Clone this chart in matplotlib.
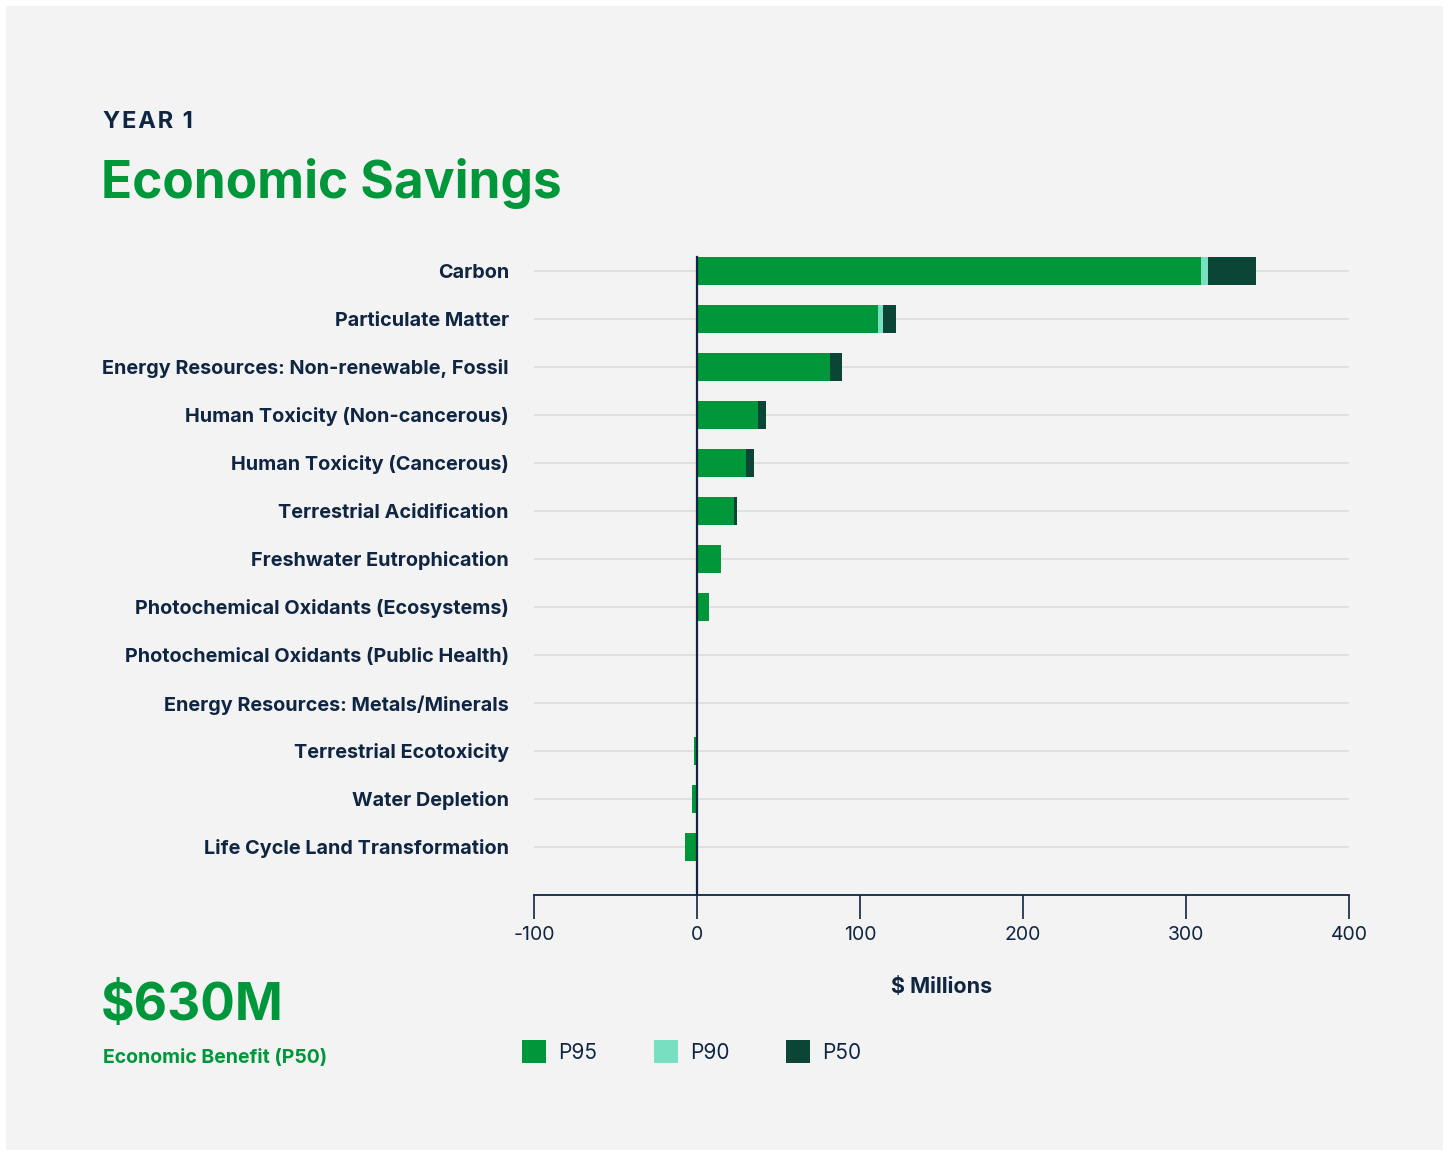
import matplotlib.pyplot as plt
from matplotlib.patches import Rectangle

# data ($ millions)
categories = ["Carbon", "Particulate Matter", "Energy Resources: Non-renewable, Fossil",
              "Human Toxicity (Non-cancerous)", "Human Toxicity (Cancerous)",
              "Terrestrial Acidification", "Freshwater Eutrophication",
              "Photochemical Oxidants (Ecosystems)", "Photochemical Oxidants (Public Health)",
              "Energy Resources: Metals/Minerals", "Terrestrial Ecotoxicity",
              "Water Depletion", "Life Cycle Land Transformation"]
p95 = [309, 111, 81.5, 37.5, 30, 22.7, 14.7, 7.3, 0.2, 0.1, -1.8, -3.2, -7.6]
p90 = [313.5, 114, 81.5, 37.5, 30, 22.7, 14.7, 7.3, 0.2, 0.1, -1.8, -3.2, -7.6]
p50 = [343, 122, 89, 42.3, 35, 24.5, 14.7, 7.3, 0.2, 0.1, -1.8, -3.2, -7.6]
xticks = [-100, 0, 100, 200, 300, 400]

GREEN = "#00963a"
MINT = "#78e0c0"
DARK = "#0b4535"
NAVY = "#0f2542"
BG = "#f3f3f3"

plt.rcParams['font.family'] = ['Inter', 'DejaVu Sans']

fig = plt.figure(figsize=(14.49, 11.52), dpi=100)
fig.patch.set_facecolor("white")
fig.patches.append(Rectangle((6 / 1449, 2 / 1152), 1437 / 1449, 1144 / 1152,
                             transform=fig.transFigure, facecolor=BG,
                             edgecolor="none", zorder=-10))

ax = fig.add_axes([534 / 1449, 257 / 1152, 815 / 1449, 672 / 1152])
ax.set_facecolor("none")

ypos = list(range(len(categories)))
h = 0.58
ax.barh(ypos, p50, height=h, color=DARK, zorder=3)
ax.barh(ypos, p90, height=h, color=MINT, zorder=4)
ax.barh(ypos, p95, height=h, color=GREEN, zorder=5)

for y in ypos:
    ax.axhline(y, color="#dedede", lw=1.3, zorder=1)

ax.set_ylim(len(categories), -1)
ax.set_xlim(-100, 400)
ax.axvline(0, ymin=0, ymax=(len(categories) + 0.3) / (len(categories) + 1),
           color=NAVY, lw=1.6, zorder=6)

for s in ["top", "right", "left"]:
    ax.spines[s].set_visible(False)
ax.spines["bottom"].set_color(NAVY)
ax.spines["bottom"].set_linewidth(1.3)

ax.set_xticks(xticks)
ax.set_xticklabels([str(t) for t in xticks])
ax.tick_params(axis="x", direction="out", length=17, width=1.2, color=NAVY,
               labelcolor=NAVY, labelsize=14, pad=5)
ax.set_yticks(ypos)
ax.set_yticklabels(categories, fontweight="bold")
ax.tick_params(axis="y", length=0, pad=18, labelcolor=NAVY, labelsize=14.3)

ax.set_xlabel("$ Millions", fontsize=15.5, fontweight="bold", color=NAVY, labelpad=24)

# titles
fig.text(103 / 1449, 1 - 128 / 1152, "Y\u200aE\u200aA\u200aR\u200a \u200a1",
         fontsize=17, fontweight="bold", color=NAVY)
fig.text(101 / 1449, 1 - 198 / 1152, "Economic Savings", fontsize=37,
         fontweight="bold", color=GREEN)
fig.text(101 / 1449, 1 - 1020 / 1152, "$630M", fontsize=37, fontweight="bold",
         color=GREEN)
fig.text(103 / 1449, 1 - 1063 / 1152, "Economic Benefit (P50)", fontsize=14,
         fontweight="bold", color=GREEN)

# legend
leg_labels = ["P95", "P90", "P50"]
leg_colors = [GREEN, MINT, DARK]
for i, (lab, col) in enumerate(zip(leg_labels, leg_colors)):
    x0 = (522 + 132 * i) / 1449
    fig.patches.append(Rectangle((x0, 1 - 1063 / 1152), 24 / 1449, 23 / 1152,
                                 transform=fig.transFigure, facecolor=col,
                                 edgecolor="none"))
    fig.text(x0 + 36 / 1449, 1 - 1053 / 1152, lab, fontsize=15, color=NAVY,
             va="center")

fig.savefig("out.png", dpi=100, facecolor=fig.get_facecolor())
